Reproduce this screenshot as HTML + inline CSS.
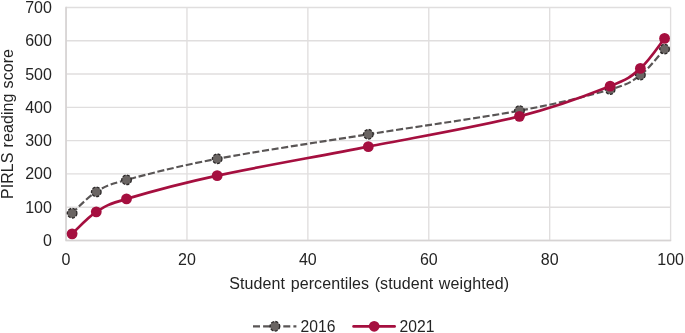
<!DOCTYPE html><html><head><meta charset="utf-8"><style>html,body{margin:0;padding:0;background:#fff}svg{display:block}text{font-family:"Liberation Sans",sans-serif;fill:#242424}</style></head><body>
<svg width="685" height="333" viewBox="0 0 685 333">
<rect width="685" height="333" fill="#fff"/>
<g stroke="#e0dede" stroke-width="1.35" fill="none"><line x1="66.05" x2="670.60" y1="240.50" y2="240.50"/><line x1="66.05" x2="670.60" y1="207.21" y2="207.21"/><line x1="66.05" x2="670.60" y1="173.91" y2="173.91"/><line x1="66.05" x2="670.60" y1="140.62" y2="140.62"/><line x1="66.05" x2="670.60" y1="107.33" y2="107.33"/><line x1="66.05" x2="670.60" y1="74.04" y2="74.04"/><line x1="66.05" x2="670.60" y1="40.74" y2="40.74"/><line x1="66.05" x2="670.60" y1="7.45" y2="7.45"/><line x1="66.05" x2="66.05" y1="240.50" y2="7.45"/><line x1="186.96" x2="186.96" y1="240.50" y2="7.45"/><line x1="307.87" x2="307.87" y1="240.50" y2="7.45"/><line x1="428.78" x2="428.78" y1="240.50" y2="7.45"/><line x1="549.69" x2="549.69" y1="240.50" y2="7.45"/><line x1="670.60" x2="670.60" y1="240.50" y2="7.45"/></g>
<path d="M66.05 6.85 V240.50 H671.20" fill="none" stroke="#d6d3d3" stroke-width="1.6"/>
<text x="51.9" y="246.00" font-size="16" text-anchor="end">0</text>
<text x="51.9" y="212.71" font-size="16" text-anchor="end">100</text>
<text x="51.9" y="179.41" font-size="16" text-anchor="end">200</text>
<text x="51.9" y="146.12" font-size="16" text-anchor="end">300</text>
<text x="51.9" y="112.83" font-size="16" text-anchor="end">400</text>
<text x="51.9" y="79.54" font-size="16" text-anchor="end">500</text>
<text x="51.9" y="46.24" font-size="16" text-anchor="end">600</text>
<text x="51.9" y="12.95" font-size="16" text-anchor="end">700</text>
<text x="66.05" y="265.1" font-size="16" text-anchor="middle">0</text>
<text x="186.96" y="265.1" font-size="16" text-anchor="middle">20</text>
<text x="307.87" y="265.1" font-size="16" text-anchor="middle">40</text>
<text x="428.78" y="265.1" font-size="16" text-anchor="middle">60</text>
<text x="549.69" y="265.1" font-size="16" text-anchor="middle">80</text>
<text x="670.60" y="265.1" font-size="16" text-anchor="middle">100</text>
<text transform="translate(13.3,124) rotate(-90)" font-size="16" text-anchor="middle" letter-spacing="0.08" word-spacing="0.5">PIRLS reading score</text>
<text x="369.2" y="288.7" font-size="16" text-anchor="middle" letter-spacing="0.1" word-spacing="1">Student percentiles (student weighted)</text>
<path d="M72.10 213.20 C76.13 209.65 87.21 197.44 96.28 191.89 C105.35 186.34 106.35 185.42 126.51 179.91 C146.66 174.39 176.88 166.40 217.19 158.80 C257.49 151.20 317.95 142.32 368.33 134.30 C418.70 126.27 479.16 118.12 519.46 110.66 C559.77 103.19 589.99 95.45 610.14 89.52 C630.30 83.58 631.30 81.78 640.37 75.03 C649.44 68.29 660.52 53.39 664.55 49.07" fill="none" stroke="#595555" stroke-width="2.15" stroke-dasharray="7 2.7"/>
<circle cx="72.10" cy="213.20" r="4.8" fill="#6a6563" stroke="#2b2828" stroke-width="1.3" stroke-dasharray="3 1.5"/>
<circle cx="96.28" cy="191.89" r="4.8" fill="#6a6563" stroke="#2b2828" stroke-width="1.3" stroke-dasharray="3 1.5"/>
<circle cx="126.51" cy="179.91" r="4.8" fill="#6a6563" stroke="#2b2828" stroke-width="1.3" stroke-dasharray="3 1.5"/>
<circle cx="217.19" cy="158.80" r="4.8" fill="#6a6563" stroke="#2b2828" stroke-width="1.3" stroke-dasharray="3 1.5"/>
<circle cx="368.33" cy="134.30" r="4.8" fill="#6a6563" stroke="#2b2828" stroke-width="1.3" stroke-dasharray="3 1.5"/>
<circle cx="519.46" cy="110.66" r="4.8" fill="#6a6563" stroke="#2b2828" stroke-width="1.3" stroke-dasharray="3 1.5"/>
<circle cx="610.14" cy="89.52" r="4.8" fill="#6a6563" stroke="#2b2828" stroke-width="1.3" stroke-dasharray="3 1.5"/>
<circle cx="640.37" cy="75.03" r="4.8" fill="#6a6563" stroke="#2b2828" stroke-width="1.3" stroke-dasharray="3 1.5"/>
<circle cx="664.55" cy="49.07" r="4.8" fill="#6a6563" stroke="#2b2828" stroke-width="1.3" stroke-dasharray="3 1.5"/>
<path d="M72.10 233.84 C76.13 230.18 87.21 217.69 96.28 211.87 C105.35 206.04 106.35 204.93 126.51 198.88 C146.66 192.84 176.88 184.29 217.19 175.58 C257.49 166.87 317.95 156.49 368.33 146.61 C418.70 136.74 479.16 126.39 519.46 116.32 C559.77 106.25 589.99 94.18 610.14 86.19 C630.30 78.20 631.30 76.34 640.37 68.38 C649.44 60.41 660.52 43.41 664.55 38.41" fill="none" stroke="#a50f3f" stroke-width="2.7" stroke-linecap="round"/>
<circle cx="72.10" cy="233.84" r="5.4" fill="#a50f3f"/>
<circle cx="96.28" cy="211.87" r="5.4" fill="#a50f3f"/>
<circle cx="126.51" cy="198.88" r="5.4" fill="#a50f3f"/>
<circle cx="217.19" cy="175.58" r="5.4" fill="#a50f3f"/>
<circle cx="368.33" cy="146.61" r="5.4" fill="#a50f3f"/>
<circle cx="519.46" cy="116.32" r="5.4" fill="#a50f3f"/>
<circle cx="610.14" cy="86.19" r="5.4" fill="#a50f3f"/>
<circle cx="640.37" cy="68.38" r="5.4" fill="#a50f3f"/>
<circle cx="664.55" cy="38.41" r="5.4" fill="#a50f3f"/>
<path d="M253 326.4 H296.4" fill="none" stroke="#595555" stroke-width="2.15" stroke-dasharray="7 3.1"/>
<circle cx="274.9" cy="326.3" r="4.8" fill="#6a6563" stroke="#2b2828" stroke-width="1.3" stroke-dasharray="3 1.5"/>
<text x="300.5" y="331.8" font-size="15.7">2016</text>
<path d="M353.6 326.4 H394.6" fill="none" stroke="#a50f3f" stroke-width="2.7" stroke-linecap="round"/>
<circle cx="374.2" cy="326.3" r="5.4" fill="#a50f3f"/>
<text x="399.5" y="331.8" font-size="15.7">2021</text>
</svg></body></html>
